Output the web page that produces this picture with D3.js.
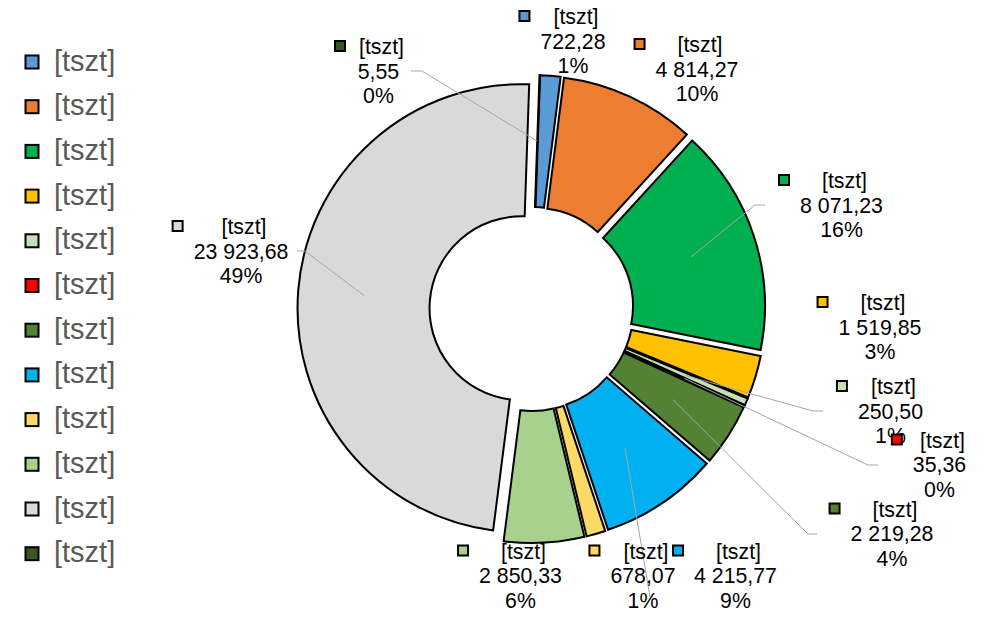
<!DOCTYPE html>
<html>
<head>
<meta charset="utf-8">
<script src="https://cdn.jsdelivr.net/npm/d3@7/dist/d3.min.js"></script>
<style>
  html, body { margin: 0; padding: 0; background: #fff; }
  svg { display: block; }
  text { font-family: "Liberation Sans", Arial, sans-serif; }
</style>
</head>
<body>
<svg id="chart" width="1005" height="617"></svg>
<script>
// ---- data ----
const categories = ["[tszt]", "[tszt]", "[tszt]", "[tszt]", "[tszt]", "[tszt]",
                    "[tszt]", "[tszt]", "[tszt]", "[tszt]", "[tszt]", "[tszt]"];
const values = [722.28, 4814.27, 8071.23, 1519.85, 250.50, 35.36,
                2219.28, 4215.77, 678.07, 2850.33, 23923.68, 5.55];
const percentLabels = [1, 10, 16, 3, 1, 0, 4, 9, 1, 6, 49, 0];
const colors = ["#5B9BD5", "#ED7D31", "#00B050", "#FFC000", "#C5E0B4", "#FF0000",
                "#548235", "#00B0F0", "#FFD966", "#A9D18E", "#D9D9D9", "#375623"];

// ---- layout for data labels: text centre x, first baseline y ----
const labelCenter = [[573, 24], [697, 52], [841.5, 188], [880, 310], [890.5, 394], [939.5, 447.5],
                     [892, 516.5], [735.5, 558.5], [643, 558.5], [520.5, 558.5], [241, 234], [378.5, 54]];
// leader line: start point at label, elbow x (null = straight)
const leaderStart = [null, null, [765, 205, 755], null, [823, 411, 813], [878, 465, 868],
                     [817, 534, 808], [650, 597, null], null, null, [297, 251, 305], [411, 71, 422]];

const svg = d3.select("#chart");
svg.append("rect").attr("width", 1005).attr("height", 617).attr("fill", "#fff");

const cx = 531.5, cy = 309, outerR = 224, innerR = 92, explode = 10;
const rot = 2 * Math.PI / 180;

const loc = d3.formatLocale({ decimal: ",", thousands: "\u00a0", grouping: [3], currency: ["", ""] });
const fmt = loc.format(",.2f");

const color = d3.scaleOrdinal().domain(d3.range(values.length)).range(colors);

const pie = d3.pie().sort(null).value(d => d).startAngle(rot).endAngle(rot + 2 * Math.PI);
const arcs = pie(values);
const arc = d3.arc().innerRadius(innerR).outerRadius(outerR);

function offset(d) {
  const m = (d.startAngle + d.endAngle) / 2;
  return [explode * Math.sin(m), -explode * Math.cos(m)];
}

const g = svg.append("g").attr("transform", `translate(${cx},${cy})`);
g.selectAll("path.slice").data(arcs).enter().append("path")
  .attr("class", "slice")
  .attr("d", arc)
  .attr("transform", d => { const o = offset(d); return `translate(${o[0]},${o[1]})`; })
  .attr("fill", (d, i) => color(i))
  .attr("stroke", "#000")
  .attr("stroke-width", 2)
  .attr("stroke-linejoin", "miter");

// leader lines
const leaders = svg.append("g");
arcs.forEach((d, i) => {
  const s = leaderStart[i];
  if (!s) return;
  const c = arc.centroid(d), o = offset(d);
  const end = [cx + c[0] + o[0], cy + c[1] + o[1]];
  const pts = [[s[0], s[1]]];
  if (s[2] !== null) pts.push([s[2], s[1]]);
  pts.push(end);
  leaders.append("path")
    .attr("d", d3.line()(pts))
    .attr("fill", "none")
    .attr("stroke", "#A6A6A6")
    .attr("stroke-width", 1);
});

// data labels
const labels = svg.append("g");
arcs.forEach((d, i) => {
  const [tx, ty] = labelCenter[i];
  const lines = [categories[i], fmt(d.data), percentLabels[i] + "%"];
  const lg = labels.append("g");
  let maxW = 0;
  lines.forEach((t, k) => {
    const el = lg.append("text")
      .attr("x", tx + (k === 0 ? 3 : 0))
      .attr("y", ty + k * 24.5)
      .attr("text-anchor", "middle")
      .attr("font-size", "21.3px")
      .attr("fill", "#000")
      .text(t);
    maxW = Math.max(maxW, el.node().getComputedTextLength());
  });
  lg.insert("rect", "text")
    .attr("x", tx - maxW / 2 - 16 - 5)
    .attr("y", ty - 8 - 5)
    .attr("width", 10).attr("height", 10)
    .attr("fill", color(i))
    .attr("stroke", "#000").attr("stroke-width", 2);
});

// legend
const legend = svg.append("g");
categories.forEach((c, i) => {
  const y = 62 + i * 44.7;
  legend.append("rect")
    .attr("x", 25.5).attr("y", y - 6.5)
    .attr("width", 13).attr("height", 13)
    .attr("fill", color(i))
    .attr("stroke", "#000").attr("stroke-width", 2);
  legend.append("text")
    .attr("x", 54).attr("y", y + 8.5)
    .attr("font-size", "29px")
    .attr("fill", "#595959")
    .text(c);
});
</script>
</body>
</html>
